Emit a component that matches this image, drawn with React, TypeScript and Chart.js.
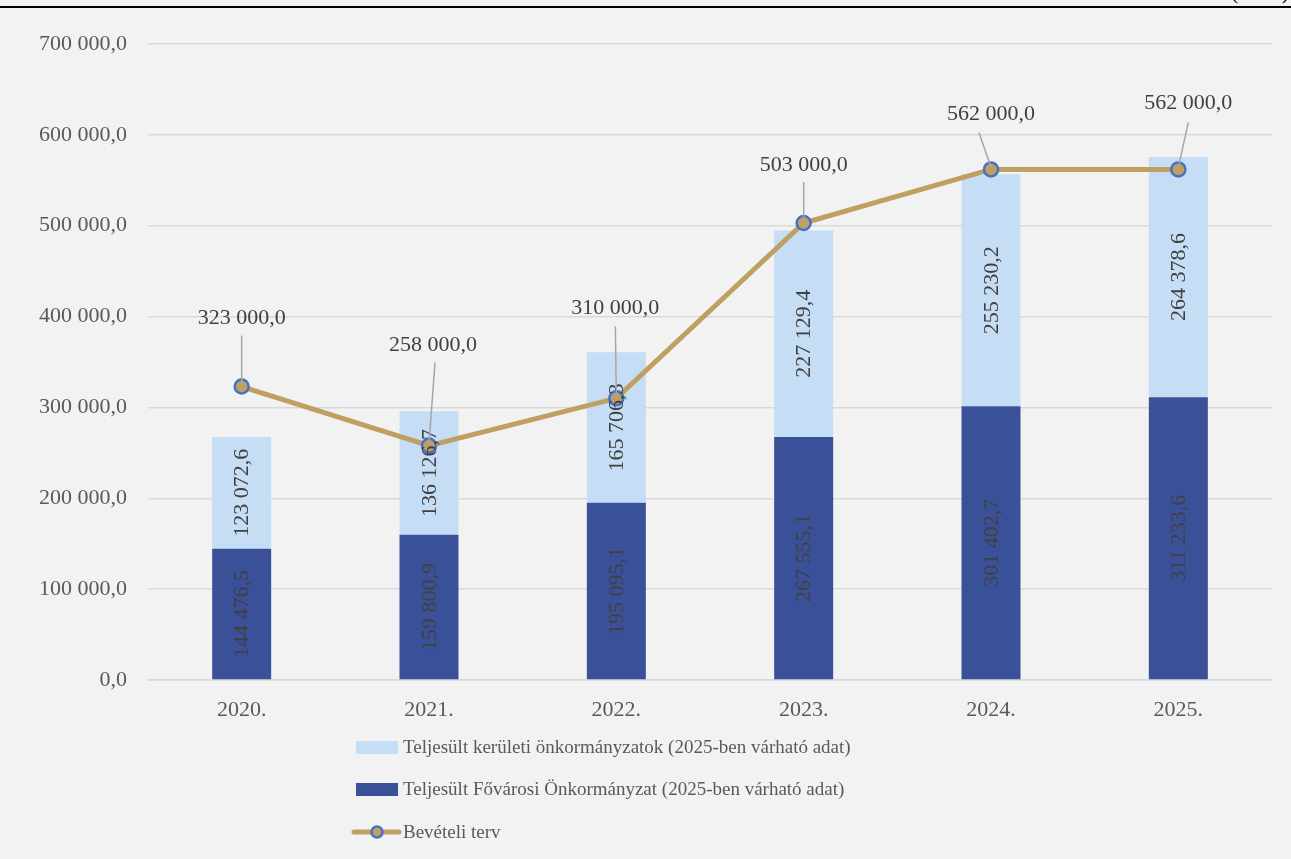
import React, { useEffect, useRef } from "react";
import { Chart, registerables } from "chart.js";

Chart.register(...registerables);

const categories = ["2020.", "2021.", "2022.", "2023.", "2024.", "2025."];
const fovarosi = [144476.5, 159800.9, 195095.1, 267555.1, 301402.7, 311233.6];
const keruleti = [123072.6, 136126.7, 165706.3, 227129.4, 255230.2, 264378.6];
const bevetelTerv = [323000, 258000, 310000, 503000, 562000, 562000];

const legendLabels = [
  "Teljesült kerületi önkormányzatok (2025-ben várható adat)",
  "Teljesült Fővárosi Önkormányzat (2025-ben várható adat)",
  "Bevételi terv",
];

const unitLabel = "(M Ft)";

// callout placement (style only): label centre offset and leader start offset from point
const calloutLabel = [[0, -68], [4, -100], [-1, -90], [0, -58], [0, -55], [10, -66]];
const calloutLeader = [[0, -51], [6, -83], [-1, -72], [0, -41], [-12, -37], [10, -47]];

const LIGHT = "#c6ddf6";
const DARK = "#3a5199";
const TAN = "#c0a062";
const BLUE = "#4472c4";
const FONT = "'Liberation Serif', 'Times New Roman', serif";

function fmt(v: number): string {
  const [i, d] = Math.abs(v).toFixed(1).split(".");
  return i.replace(/\B(?=(\d{3})+(?!\d))/g, " ") + "," + d;
}

const labelsPlugin = {
  id: "customLabels",
  afterDatasetsDraw(chart: any) {
    const ctx = chart.ctx;
    ctx.save();
    // bar labels
    ctx.font = `22px ${FONT}`;
    ctx.fillStyle = "#404040";
    ctx.textAlign = "center";
    ctx.textBaseline = "middle";
    [0, 1].forEach((di) => {
      const meta = chart.getDatasetMeta(di);
      const data = chart.data.datasets[di].data as number[];
      meta.data.forEach((bar: any, i: number) => {
        const cy = (bar.y + bar.base) / 2;
        ctx.save();
        ctx.translate(bar.x, cy);
        ctx.rotate(-Math.PI / 2);
        ctx.fillText(fmt(data[i]), 0, 1);
        ctx.restore();
      });
    });
    // line callouts
    const meta = chart.getDatasetMeta(2);
    meta.data.forEach((pt: any, i: number) => {
      const [lx, ly] = calloutLabel[i];
      const [sx, sy] = calloutLeader[i];
      ctx.strokeStyle = "#a6a6a6";
      ctx.lineWidth = 1.5;
      ctx.beginPath();
      ctx.moveTo(pt.x + sx, pt.y + sy);
      ctx.lineTo(pt.x, pt.y - 2);
      ctx.stroke();
      ctx.font = `22px ${FONT}`;
      ctx.fillStyle = "#404040";
      ctx.fillText(fmt(bevetelTerv[i]), pt.x + lx, pt.y + ly);
    });
    ctx.restore();
  },
  afterDraw(chart: any) {
    const ctx = chart.ctx;
    ctx.save();
    // top rule and unit
    ctx.strokeStyle = "#000";
    ctx.lineWidth = 2;
    ctx.beginPath();
    ctx.moveTo(0, 7);
    ctx.lineTo(chart.width, 7);
    ctx.stroke();
    ctx.font = `22px ${FONT}`;
    ctx.fillStyle = "#000";
    ctx.textAlign = "right";
    ctx.textBaseline = "alphabetic";
    ctx.fillText(unitLabel, chart.width - 2, -1);
    // legend
    const x0 = 356;
    const rows = [747, 789, 832];
    ctx.fillStyle = LIGHT;
    ctx.fillRect(x0, rows[0] - 6, 42, 13);
    ctx.fillStyle = DARK;
    ctx.fillRect(x0, rows[1] - 6, 42, 13);
    ctx.strokeStyle = TAN;
    ctx.lineWidth = 5;
    ctx.lineCap = "round";
    ctx.beginPath();
    ctx.moveTo(x0 - 2, rows[2]);
    ctx.lineTo(x0 + 43, rows[2]);
    ctx.stroke();
    ctx.beginPath();
    ctx.arc(x0 + 21, rows[2], 5.5, 0, Math.PI * 2);
    ctx.fillStyle = TAN;
    ctx.fill();
    ctx.lineWidth = 2.5;
    ctx.strokeStyle = BLUE;
    ctx.stroke();
    ctx.font = `19px ${FONT}`;
    ctx.fillStyle = "#595959";
    ctx.textAlign = "left";
    ctx.textBaseline = "middle";
    legendLabels.forEach((t, i) => ctx.fillText(t, x0 + 47, rows[i] + 1));
    ctx.restore();
  },
};

export default function App() {
  const ref = useRef<HTMLCanvasElement | null>(null);
  useEffect(() => {
    if (!ref.current) return;
    const chart = new Chart(ref.current, {
      type: "bar",
      data: {
        labels: categories,
        datasets: [
          {
            type: "bar",
            label: legendLabels[1],
            data: fovarosi,
            backgroundColor: DARK,
            stack: "bars",
            order: 2,
            categoryPercentage: 1,
            barPercentage: 0.315,
          },
          {
            type: "bar",
            label: legendLabels[0],
            data: keruleti,
            backgroundColor: LIGHT,
            stack: "bars",
            order: 2,
            categoryPercentage: 1,
            barPercentage: 0.315,
          },
          {
            type: "line",
            label: legendLabels[2],
            data: bevetelTerv,
            borderColor: TAN,
            borderWidth: 5,
            pointRadius: 7,
            pointBackgroundColor: TAN,
            pointBorderColor: BLUE,
            pointBorderWidth: 2.5,
            stack: "line",
            order: 1,
            tension: 0,
          } as any,
        ],
      },
      options: {
        responsive: false,
        animation: false,
        layout: { padding: { top: 44, right: 19, left: 0, bottom: 0 } },
        plugins: { legend: { display: false }, tooltip: { enabled: false } },
        scales: {
          x: {
            stacked: true,
            grid: { display: false, drawTicks: false },
            border: { color: "#d9d9d9", width: 1.5 },
            ticks: { color: "#595959", font: { family: FONT, size: 22 }, padding: 17 },
            afterFit: (s: any) => { s.height = 179; },
          },
          y: {
            stacked: true,
            min: 0,
            max: 700000,
            grid: { color: "#d9d9d9", lineWidth: 1.5, drawTicks: false },
            border: { display: false },
            ticks: {
              stepSize: 100000,
              color: "#595959",
              font: { family: FONT, size: 22 },
              padding: 21,
              callback: (v: any) => fmt(Number(v)),
            },
            afterFit: (s: any) => { s.width = 148; },
          },
        },
      },
      plugins: [labelsPlugin],
    });
    return () => chart.destroy();
  }, []);
  return (
    <div style={{ position: "fixed", left: 0, top: 0, width: 1291, height: 859, background: "#f2f2f2" }}>
      <canvas ref={ref} width={1291} height={859} />
    </div>
  );
}
